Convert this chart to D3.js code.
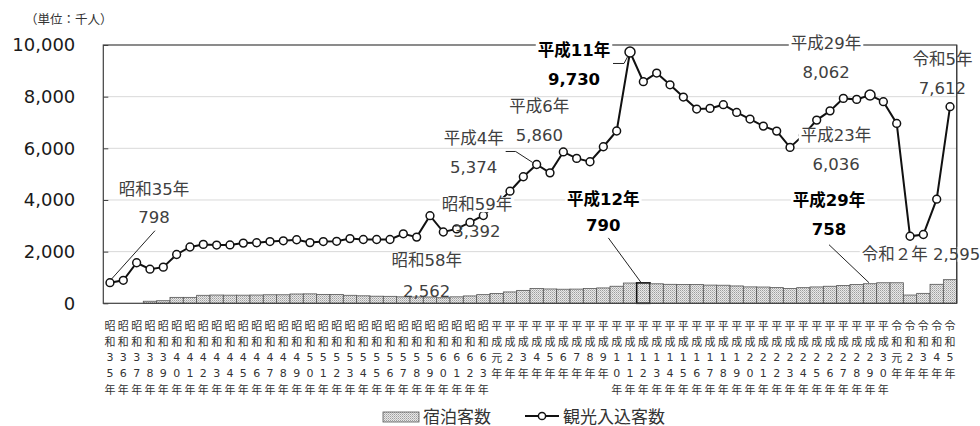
<!DOCTYPE html>
<html><head><meta charset="utf-8">
<script src="https://cdn.jsdelivr.net/npm/d3@7"></script>
<style>
body{margin:0;background:#fff;}
svg{display:block;font-family:"DejaVu Sans","Noto Sans CJK JP",sans-serif;}
</style>
</head><body>
<svg id="c" width="980" height="426"></svg>
<script>
const categories = [
 "昭和35年","昭和36年","昭和37年","昭和38年","昭和39年","昭和40年","昭和41年","昭和42年","昭和43年","昭和44年",
 "昭和45年","昭和46年","昭和47年","昭和48年","昭和49年","昭和50年","昭和51年","昭和52年","昭和53年","昭和54年",
 "昭和55年","昭和56年","昭和57年","昭和58年","昭和59年","昭和60年","昭和61年","昭和62年","昭和63年",
 "平成元年","平成2年","平成3年","平成4年","平成5年","平成6年","平成7年","平成8年","平成9年","平成10年",
 "平成11年","平成12年","平成13年","平成14年","平成15年","平成16年","平成17年","平成18年","平成19年","平成20年",
 "平成21年","平成22年","平成23年","平成24年","平成25年","平成26年","平成27年","平成28年","平成29年","平成30年",
 "令和元年","令和2年","令和3年","令和4年","令和5年"
];
// 観光入込客数 (千人)
const visitors = [
 798, 890, 1570, 1320, 1400, 1890, 2180, 2280, 2255, 2260,
 2330, 2345, 2390, 2420, 2460, 2350, 2390, 2400, 2505, 2470,
 2470, 2470, 2690, 2562, 3392, 2760, 2880, 3130, 3400,
 3850, 4340, 4900, 5374, 5050, 5860, 5610, 5480, 6060, 6670,
 9730, 8580, 8915, 8460, 7985, 7519, 7545, 7690, 7390, 7132,
 6860, 6667, 6036, 6510, 7093, 7450, 7933, 7894, 8062, 7804,
 6964, 2595, 2663, 4031, 7612
];
// 宿泊客数 (千人)
const overnight = [
 null, null, null, 80, 100, 230, 230, 310, 320, 315,
 315, 320, 330, 330, 360, 365, 345, 340, 310, 290,
 275, 270, 250, 245, 245, 215, 250, 285, 335,
 380, 440, 500, 570, 555, 545, 550, 570, 595, 660,
 785, 790, 755, 735, 730, 725, 705, 700, 672, 635,
 630, 607, 570, 605, 633, 660, 690, 725, 758, 795,
 795, 320, 385, 735, 915
];
const yTicks = [0, 2000, 4000, 6000, 8000, 10000];
const seriesNames = ["宿泊客数", "観光入込客数"];
const unitLabel = "（単位：千人）";

// annotation layout (offsets relative to the mark)
const notes = [
 {cat:"昭和35年", s:"line", t:"昭和35年", v:"798", dx:44, dy:-93, dy2:-65, lead:[[1,-3],[45,-52]]},
 {cat:"昭和58年", s:"line", t:"昭和58年", v:"2,562", dx:10, dy:23, dy2:54},
 {cat:"昭和59年", s:"line", t:"昭和59年", v:"3,392", dx:47, dy:-11, dy2:16, bg:true},
 {cat:"平成4年", s:"line", t:"平成4年", v:"5,374", dx:-63, dy:-26, dy2:3, lead:[[-31,-13],[-21,-13],[-4,-2]]},
 {cat:"平成6年", s:"line", t:"平成6年", v:"5,860", dx:-24, dy:-45, dy2:-16},
 {cat:"平成11年", s:"line", t:"平成11年", v:"9,730", dx:-56, dy:-1, dy2:28, bold:true, bg:true, lead:[[-17,11.5],[-6,11.5],[-2,4]]},
 {cat:"平成12年", s:"bar", t:"平成12年", v:"790", dx:-40, dy:-83, dy2:-57, bold:true, bg:true, lead:[[-35,-45],[-2,0]]},
 {cat:"平成23年", s:"line", t:"平成23年", v:"6,036", dx:46, dy:-12, dy2:17, bg:true},
 {cat:"平成29年", s:"line", t:"平成29年", v:"8,062", dx:-44, dy:-52, dy2:-23, bg:true},
 {cat:"平成29年", s:"bar", t:"平成29年", v:"758", dx:-41, dy:-83, dy2:-54, bold:true, bg:true, lead:[[-41,-39],[-1,-1]]},
 {cat:"令和2年", s:"line", t:"令和２年 2,595", v:null, dx:11, dy:18, bg:true},
 {cat:"令和5年", s:"line", t:"令和5年", v:"7,612", dx:-7.6, dy:-47, dy2:-18}
];
const bigMarkers = ["平成11年", "平成29年"];
const highlightBar = "平成12年";

const svg = d3.select("#c");
const L = 103.3, R = 956.7, T = 45, B = 303.3;
const x = d3.scaleBand().domain(categories).range([L, R]).padding(0);
const y = d3.scaleLinear().domain([0, 10000]).range([B, T]);
const bw = x.bandwidth();

// pattern
const defs = svg.append("defs");
const pat = defs.append("pattern").attr("id","dots").attr("patternUnits","userSpaceOnUse")
  .attr("width",2).attr("height",2);
pat.append("rect").attr("width",2).attr("height",2).attr("fill","#e8e8e8");
pat.append("rect").attr("x",0).attr("y",0).attr("width",1).attr("height",1).attr("fill","#9e9e9e");
pat.append("rect").attr("x",1).attr("y",1).attr("width",1).attr("height",1).attr("fill","#bdbdbd");

// grid
svg.append("g").selectAll("line").data(yTicks.filter(d => d > 0 && d < 10000)).join("line")
  .attr("x1", L).attr("x2", R).attr("y1", d => y(d)).attr("y2", d => y(d))
  .attr("stroke", "#d9d9d9").attr("stroke-width", 1);

// y axis
const yAxis = d3.axisLeft(y).tickValues(yTicks).tickFormat(d3.format(",")).tickSizeInner(-5).tickSizeOuter(0);
const ya = svg.append("g").attr("transform", `translate(${L},0)`).call(yAxis);
ya.select(".domain").remove();
ya.selectAll(".tick line").attr("stroke", "#404040");
ya.selectAll(".tick text").attr("x", -28).attr("font-size", 18).attr("fill", "#1a1a1a")
  .attr("font-family", '"DejaVu Sans",sans-serif');

// bars
svg.append("g").selectAll("rect").data(categories.map((c, i) => ({c, v: overnight[i]})).filter(d => d.v != null))
  .join("rect")
  .attr("x", d => x(d.c)).attr("width", bw)
  .attr("y", d => y(d.v)).attr("height", d => y(0) - y(d.v))
  .attr("fill", "url(#dots)")
  .attr("stroke", d => d.c === highlightBar ? "#111" : "#555")
  .attr("stroke-width", d => d.c === highlightBar ? 1.6 : 0.8);

// plot border
svg.append("rect").attr("x", L).attr("y", T).attr("width", R - L).attr("height", B - T)
  .attr("fill", "none").attr("stroke", "#404040").attr("stroke-width", 1.2);

// line
const pts = categories.map((c, i) => ({c, v: visitors[i]}));
const line = d3.line().x(d => x(d.c) + bw / 2).y(d => y(d.v));
svg.append("path").datum(pts).attr("d", line).attr("fill", "none").attr("stroke", "#111").attr("stroke-width", 2);
svg.append("g").selectAll("circle").data(pts).join("circle")
  .attr("cx", d => x(d.c) + bw / 2).attr("cy", d => y(d.v))
  .attr("r", d => bigMarkers.includes(d.c) ? 5 : 3.9)
  .attr("fill", "#fff").attr("stroke", "#111").attr("stroke-width", 1.5);

// annotations
const ag = svg.append("g");
notes.forEach(n => {
  const i = categories.indexOf(n.cat);
  const px = x(n.cat) + bw / 2;
  const py = n.s === "line" ? y(visitors[i]) : y(overnight[i]);
  const col = n.bold ? "#000" : "#404040";
  if (n.lead) {
    const lp = n.lead.map(p => [px + p[0], py + p[1]]);
    ag.append("path").attr("d", d3.line()(lp)).attr("fill", "none").attr("stroke", "#222").attr("stroke-width", 1);
  }
  const rows = [[n.t, n.dy, true]];
  if (n.v) rows.push([n.v, n.dy2, false]);
  rows.forEach(([txt, dy, isTitle]) => {
    const t = ag.append("text").attr("x", px + n.dx).attr("y", py + dy)
      .attr("text-anchor", "middle").attr("dominant-baseline", "central")
      .attr("font-size", 16.5).attr("font-weight", n.bold ? "bold" : "normal")
      .attr("fill", col).text(txt);
    if (n.bg && isTitle) {
      const bb = t.node().getBBox();
      ag.insert("rect", () => t.node()).attr("x", bb.x - 2).attr("y", bb.y + 2)
        .attr("width", bb.width + 4).attr("height", bb.height - 4).attr("fill", "#fff");
    }
  });
});
// redraw right border on top
svg.append("line").attr("x1", R).attr("x2", R).attr("y1", T).attr("y2", B).attr("stroke", "#404040").attr("stroke-width", 1.2);

// x labels (vertical stacked chars)
const xg = svg.append("g");
categories.forEach(c => {
  const cx = x(c) + bw / 2;
  Array.from(c).forEach((ch, k) => {
    xg.append("text").attr("x", cx).attr("y", 325 + k * 16)
      .attr("text-anchor", "middle").attr("dominant-baseline", "central")
      .attr("font-size", 11).attr("fill", "#333")
      .attr("font-family", /[0-9]/.test(ch) ? '"DejaVu Sans",sans-serif' : '"Noto Sans CJK JP",sans-serif')
      .text(ch);
  });
});

// unit label
svg.append("text").attr("x", 25).attr("y", 18).attr("dominant-baseline", "central")
  .attr("font-size", 12.5).attr("fill", "#333").attr("font-family", '"Noto Sans CJK JP",sans-serif').text(unitLabel);

// legend
const lg = svg.append("g");
lg.append("rect").attr("x", 383).attr("y", 412).attr("width", 36).attr("height", 10)
  .attr("fill", "url(#dots)").attr("stroke", "#555").attr("stroke-width", 0.8);
lg.append("text").attr("x", 423).attr("y", 417).attr("dominant-baseline", "central")
  .attr("font-size", 17).attr("fill", "#333").text(seriesNames[0]);
lg.append("line").attr("x1", 525).attr("x2", 559).attr("y1", 416).attr("y2", 416).attr("stroke", "#111").attr("stroke-width", 2);
lg.append("circle").attr("cx", 542).attr("cy", 416).attr("r", 3.6).attr("fill", "#fff").attr("stroke", "#111").attr("stroke-width", 1.5);
lg.append("text").attr("x", 563).attr("y", 417).attr("dominant-baseline", "central")
  .attr("font-size", 17).attr("fill", "#333").text(seriesNames[1]);
</script>
</body></html>
